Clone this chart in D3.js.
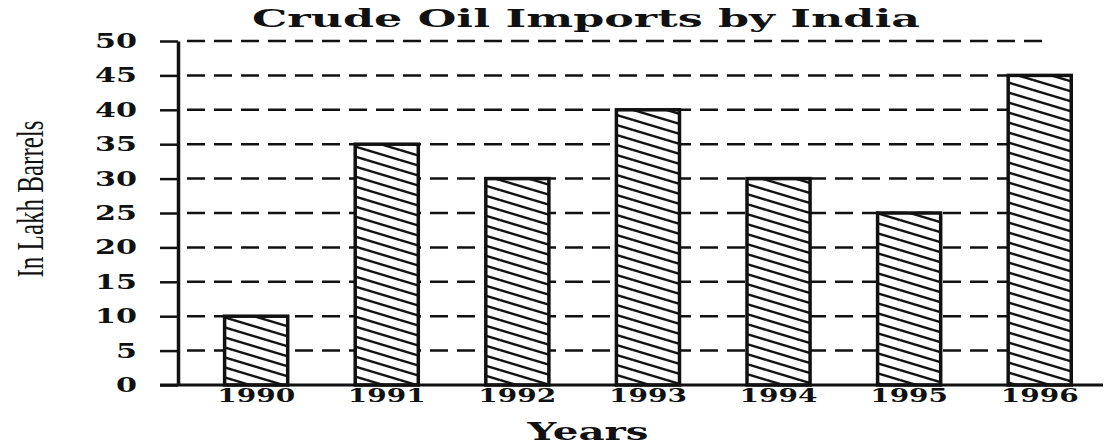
<!DOCTYPE html>
<html>
<head>
<meta charset="utf-8">
<script src="https://cdn.jsdelivr.net/npm/d3@7"></script>
<style>
  html, body { margin: 0; padding: 0; background: #fff; }
  svg { display: block; }
</style>
</head>
<body>
<svg id="chart" width="1109" height="446"></svg>
<script>
const years = ["1990", "1991", "1992", "1993", "1994", "1995", "1996"];
const imports = [10, 35, 30, 40, 30, 25, 45];
const yTicks = [0, 5, 10, 15, 20, 25, 30, 35, 40, 45, 50];
const titleText = "Crude Oil Imports by India";
const xTitle = "Years";
const yTitle = "In Lakh Barrels";

const svg = d3.select("#chart");
const ink = "#111";

const x = d3.scaleBand().domain(years).range([178, 1103])
  .paddingInner(0.517).paddingOuter(0.3).align(0.595);
const y = d3.scaleLinear().domain([0, 50]).range([385, 41]);

// hatch pattern
const defs = svg.append("defs");
const pw = 33.33, ph = 10;
const pat = defs.append("pattern").attr("id", "hatch")
  .attr("patternUnits", "userSpaceOnUse").attr("width", pw).attr("height", ph);
pat.append("rect").attr("width", pw).attr("height", ph).attr("fill", "#fff");
[-ph, 0, ph].forEach(o => {
  pat.append("line").attr("x1", 0).attr("y1", o).attr("x2", pw).attr("y2", o + ph)
    .attr("stroke", ink).attr("stroke-width", 2.4);
});

// gridlines
svg.append("g").selectAll("line").data(yTicks.filter(d => d > 0)).join("line")
  .attr("x1", 187).attr("x2", 1047)
  .attr("y1", d => y(d)).attr("y2", d => y(d))
  .attr("stroke", ink).attr("stroke-width", 2.5)
  .attr("stroke-dasharray", "18 9");

// bars
svg.append("g").selectAll("rect").data(imports).join("rect")
  .attr("x", (d, i) => x(years[i]))
  .attr("width", x.bandwidth())
  .attr("y", d => y(d))
  .attr("height", d => y(0) - y(d))
  .attr("fill", "url(#hatch)")
  .attr("stroke", ink).attr("stroke-width", 3.5);

// y axis
const yAxis = svg.append("g").attr("transform", "translate(178,0)")
  .call(d3.axisLeft(y).tickValues(yTicks).tickSize(18).tickSizeOuter(0).tickPadding(23));
yAxis.select(".domain").attr("stroke", ink).attr("stroke-width", 3.5);
yAxis.selectAll(".tick line").attr("stroke", ink).attr("stroke-width", 2.5);
yAxis.selectAll(".tick text")
  .attr("font-family", "DejaVu Serif").attr("font-weight", "bold").attr("font-size", 20)
  .attr("fill", ink)
  .attr("textLength", d => String(d).length * 21).attr("lengthAdjust", "spacingAndGlyphs");

// x axis
const xAxis = svg.append("g").attr("transform", "translate(0,385)")
  .call(d3.axisBottom(x).tickSize(0).tickPadding(4));
xAxis.select(".domain").remove();
xAxis.append("line").attr("x1", 160).attr("x2", 1103).attr("y1", 0).attr("y2", 0)
  .attr("stroke", ink).attr("stroke-width", 3);
xAxis.selectAll(".tick text")
  .attr("font-family", "DejaVu Serif").attr("font-weight", "bold").attr("font-size", 18.5)
  .attr("fill", ink)
  .attr("textLength", 78).attr("lengthAdjust", "spacingAndGlyphs");

// title
svg.append("text").attr("x", 586).attr("y", 27).attr("text-anchor", "middle")
  .attr("font-family", "DejaVu Serif").attr("font-weight", "bold").attr("font-size", 24)
  .attr("fill", ink)
  .attr("textLength", 668).attr("lengthAdjust", "spacingAndGlyphs")
  .text(titleText);

// x title
svg.append("text").attr("x", 588).attr("y", 440).attr("text-anchor", "middle")
  .attr("font-family", "DejaVu Serif").attr("font-weight", "bold").attr("font-size", 24)
  .attr("fill", ink)
  .attr("textLength", 121).attr("lengthAdjust", "spacingAndGlyphs")
  .text(xTitle);

// y title
svg.append("text").attr("transform", "translate(43,199) rotate(-90)")
  .attr("text-anchor", "middle")
  .attr("font-family", "Liberation Serif").attr("font-size", 38)
  .attr("fill", ink)
  .attr("textLength", 157).attr("lengthAdjust", "spacingAndGlyphs")
  .text(yTitle);
</script>
</body>
</html>
